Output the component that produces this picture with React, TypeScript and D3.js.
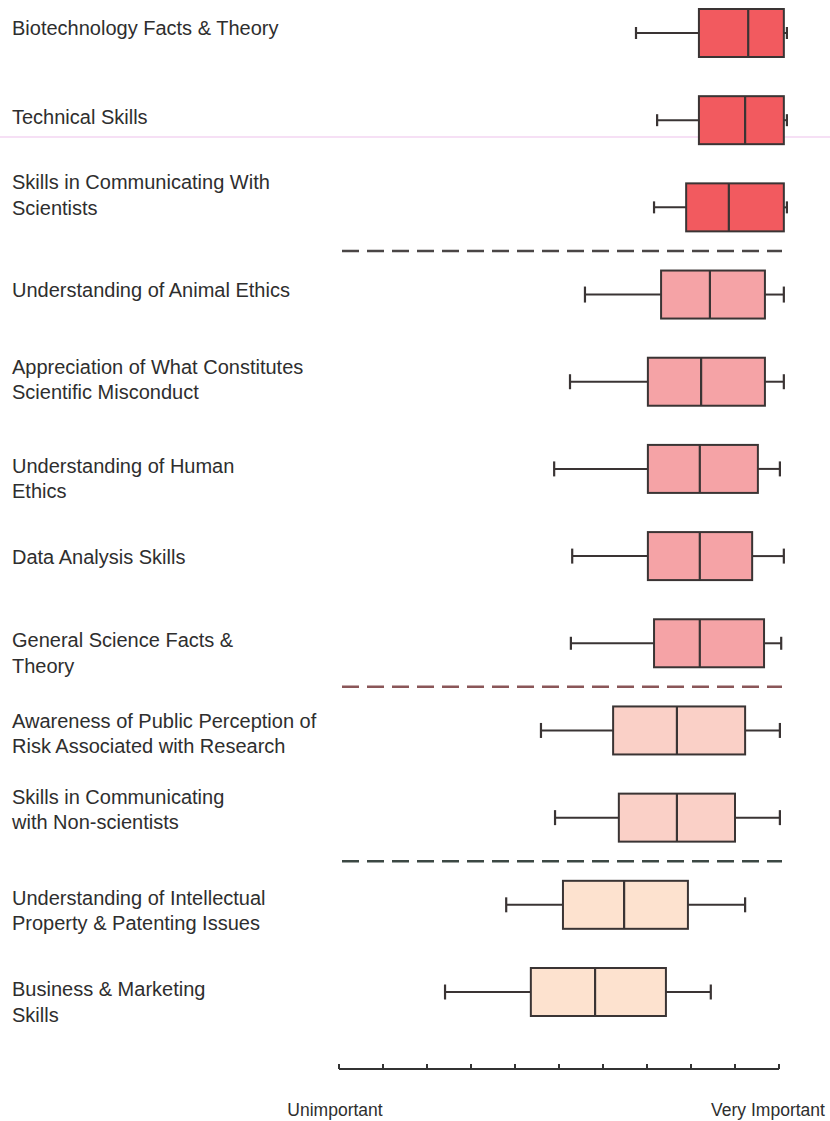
import React from "react";
import * as d3 from "d3";

const labels: string[][] = [
  ["Biotechnology Facts & Theory"],
  ["Technical Skills"],
  ["Skills in Communicating With", "Scientists"],
  ["Understanding of Animal Ethics"],
  ["Appreciation of What Constitutes", "Scientific Misconduct"],
  ["Understanding of Human", "Ethics"],
  ["Data Analysis Skills"],
  ["General Science Facts &", "Theory"],
  ["Awareness of Public Perception of", "Risk Associated with Research"],
  ["Skills in Communicating", "with Non-scientists"],
  ["Understanding of Intellectual", "Property & Patenting Issues"],
  ["Business & Marketing", "Skills"],
];

const mins = [6.75, 7.23, 7.16, 5.59, 5.25, 4.89, 5.3, 5.27, 4.59, 4.91, 3.8, 2.41];
const q1s = [8.18, 8.18, 7.89, 7.32, 7.02, 7.02, 7.02, 7.16, 6.23, 6.36, 5.09, 4.36];
const medians = [9.3, 9.23, 8.86, 8.43, 8.23, 8.2, 8.2, 8.2, 7.68, 7.68, 6.48, 5.82];
const q3s = [10.11, 10.11, 10.11, 9.68, 9.68, 9.52, 9.39, 9.66, 9.23, 9.0, 7.93, 7.43];
const maxs = [10.18, 10.18, 10.18, 10.11, 10.11, 10.02, 10.11, 10.05, 10.02, 10.02, 9.23, 8.45];
const groups = [0, 0, 0, 1, 1, 1, 1, 1, 2, 2, 3, 3];
const separatorsAfter = [2, 7, 9];
const tickValues = d3.range(0, 11);
const axisLabels = ["Unimportant", "Very Important"];

// layout / style constants
const groupFill = ["#f25a5f", "#f5a3a6", "#fad0c7", "#fde2cf"];
const sepColors = ["#4a4646", "#8a5658", "#3c4844"];
const labelDy = [2, 4, -18, 2, -8, 4, 8, 4, -2.5, -14, 0, 4];
const capH = [12, 12, 12, 16, 15, 15, 15, 13, 15, 15, 15, 15];
const boxH = 48;
const FONT = "'Liberation Sans', Arial, sans-serif";

export default function App() {
  const W = 830;
  const H = 1121;
  const x = d3.scaleLinear().domain([0, 10]).range([339, 779]);
  const y = d3
    .scalePoint<number>()
    .domain(d3.range(labels.length))
    .range([33, 992]);

  const stroke = "#3a3434";

  return (
    <div style={{ position: "absolute", left: 0, top: 0 }}>
      <svg width={W} height={H} style={{ display: "block", background: "#fff" }}>
        <line x1={0} x2={W} y1={137} y2={137} stroke="#f3d6f2" strokeWidth={1.5} />
        {labels.map((lines, i) => {
          const cy = y(i)!;
          return (
            <g key={i}>
              <text
                x={12}
                y={cy + labelDy[i]}
                fontFamily={FONT}
                fontSize={20}
                fill="#2e2e2e"
              >
                {lines.map((t, j) => (
                  <tspan key={j} x={12} dy={j === 0 ? 0 : 25.5}>
                    {t}
                  </tspan>
                ))}
              </text>
              <line
                x1={x(mins[i])}
                x2={x(q1s[i])}
                y1={cy}
                y2={cy}
                stroke={stroke}
                strokeWidth={2}
              />
              <line
                x1={x(q3s[i])}
                x2={x(maxs[i])}
                y1={cy}
                y2={cy}
                stroke={stroke}
                strokeWidth={2}
              />
              <line
                x1={x(mins[i])}
                x2={x(mins[i])}
                y1={cy - capH[i] / 2}
                y2={cy + capH[i] / 2}
                stroke={stroke}
                strokeWidth={2.2}
              />
              <line
                x1={x(maxs[i])}
                x2={x(maxs[i])}
                y1={cy - capH[i] / 2}
                y2={cy + capH[i] / 2}
                stroke={stroke}
                strokeWidth={2.2}
              />
              <rect
                x={x(q1s[i])}
                y={cy - boxH / 2}
                width={x(q3s[i]) - x(q1s[i])}
                height={boxH}
                fill={groupFill[groups[i]]}
                stroke={stroke}
                strokeWidth={2}
              />
              <line
                x1={x(medians[i])}
                x2={x(medians[i])}
                y1={cy - boxH / 2}
                y2={cy + boxH / 2}
                stroke={stroke}
                strokeWidth={2.2}
              />
            </g>
          );
        })}
        {separatorsAfter.map((idx, k) => {
          const sy = (y(idx)! + y(idx + 1)!) / 2;
          return (
            <line
              key={k}
              x1={342}
              x2={782}
              y1={sy}
              y2={sy}
              stroke={sepColors[k]}
              strokeWidth={2.5}
              strokeDasharray="17 8"
            />
          );
        })}
        <line x1={x(0)} x2={x(10)} y1={1069} y2={1069} stroke="#333" strokeWidth={2} />
        {tickValues.map((t) => (
          <line
            key={t}
            x1={x(t)}
            x2={x(t)}
            y1={1064}
            y2={1069}
            stroke="#333"
            strokeWidth={2}
          />
        ))}
        <text
          x={335}
          y={1116}
          textAnchor="middle"
          fontFamily={FONT}
          fontSize={17.5}
          fill="#2e2e2e"
        >
          {axisLabels[0]}
        </text>
        <text
          x={768}
          y={1116}
          textAnchor="middle"
          fontFamily={FONT}
          fontSize={17.5}
          fill="#2e2e2e"
        >
          {axisLabels[1]}
        </text>
      </svg>
    </div>
  );
}
